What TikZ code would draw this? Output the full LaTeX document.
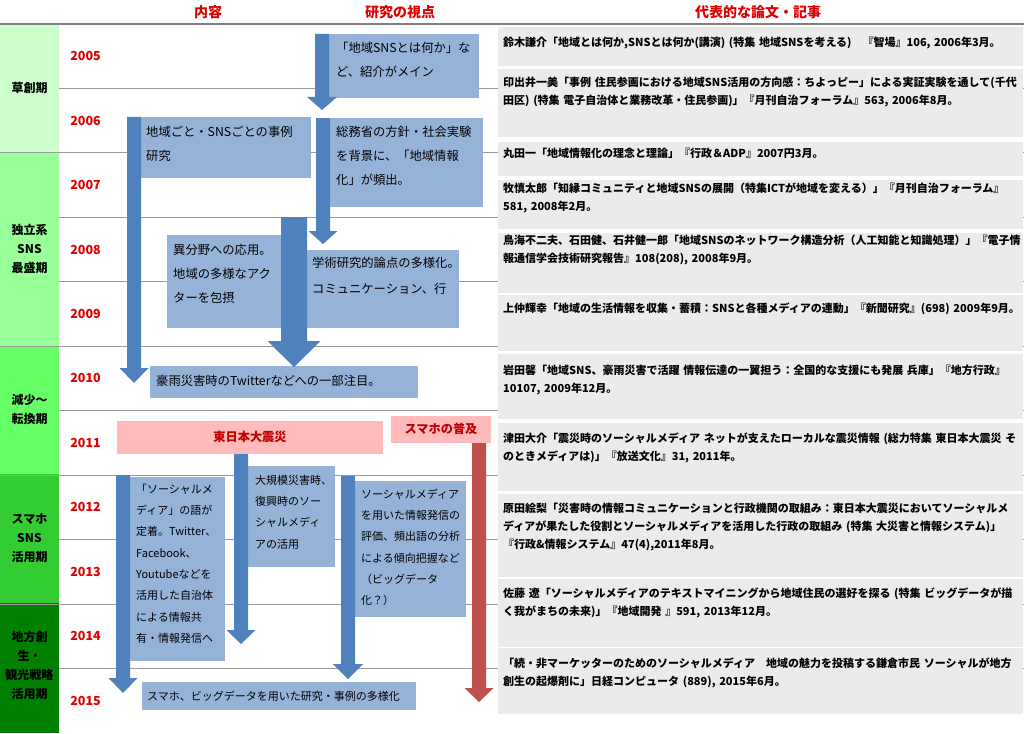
\documentclass[tikz,border=0pt]{standalone}
\usepackage{fontspec}
\setmainfont{Noto Sans CJK JP}
\definecolor{arrowblue}{HTML}{4F81BD}
\definecolor{boxblue}{HTML}{95B3D7}
\definecolor{arrowred}{HTML}{C0504D}
\definecolor{pinkfill}{HTML}{FFBBBB}
\definecolor{pinktext}{HTML}{C00000}
\definecolor{headred}{HTML}{E00000}
\definecolor{yearred}{HTML}{E00000}
\definecolor{refgray}{HTML}{EBEBEB}
\definecolor{linegray}{HTML}{9A9A9A}
\definecolor{topline}{HTML}{808080}
\definecolor{pA}{HTML}{CCFFCC}
\definecolor{pB}{HTML}{99FF99}
\definecolor{pC}{HTML}{66FF66}
\definecolor{pD}{HTML}{33CC33}
\definecolor{pE}{HTML}{008000}
\newcommand{\blockarrow}[7]{%
  \fill[#1] ({#2-#3},#4) -- ({#2+#3},#4) -- ({#2+#3},#5) -- ({#2+#6},#5) -- (#2,#7) -- ({#2-#6},#5) -- ({#2-#3},#5) -- cycle;}
\tikzset{
  bbox/.style={fill=boxblue, draw=none, inner sep=0pt, outer sep=0pt, anchor=north west},
  rbox/.style={fill=refgray, draw=none, inner sep=0pt, outer sep=0pt, anchor=north west},
  pbox/.style={fill=pinkfill, draw=none, inner sep=0pt, outer sep=0pt, anchor=north west},
  uppertxt/.style={anchor=base west, inner sep=0pt, text width=220pt, align=left, font=\fontsize{12.3}{24}\selectfont},
  lowertxt/.style={anchor=base west, inner sep=0pt, text width=220pt, align=left, font=\fontsize{11}{21.3}\selectfont},
  reftxt/.style={anchor=base west, inner sep=0pt, text width=560pt, align=left, font=\bfseries\fontsize{11}{18}\selectfont},
  yeartxt/.style={anchor=base, inner sep=0pt, text=yearred, font=\bfseries\fontsize{12.5}{15}\selectfont},
  periodtxt/.style={anchor=base, inner sep=0pt, text width=59pt, align=center, font=\bfseries\fontsize{12}{19}\selectfont},
  headtxt/.style={anchor=base, inner sep=0pt, text=headred, font=\bfseries\fontsize{14}{16}\selectfont},
  pinktxt/.style={anchor=base, inner sep=0pt, text=pinktext, font=\bfseries\fontsize{12.2}{14}\selectfont},
  rowline/.style={draw=linegray, line width=1pt},
}
\begin{document}
\begin{tikzpicture}[x=1pt,y=-1pt]
\useasboundingbox (0,0) rectangle (1024,733);
\fill[white] (0,0) rectangle (1024,733);
% period column
\fill[pA] (0,24) rectangle (59,153);
\fill[pB] (0,153) rectangle (59,346);
\fill[pC] (0,346) rectangle (59,474);
\fill[pD] (0,474) rectangle (59,603);
\fill[pE] (0,603) rectangle (59,733);
% row lines
\foreach \k in {1,3,4,6,8,10} { \draw[rowline] (59,{24+64.45*\k}) -- (1024,{24+64.45*\k}); }
\foreach \k in {2,5,7,9} { \draw[rowline] (0,{24+64.45*\k}) -- (1024,{24+64.45*\k}); }
\draw[draw=topline, line width=1.3pt] (0,24) -- (1024,24);
% headers
\node[headtxt] (h1) at (208,17.3) {内容};
\node[headtxt] (h2) at (400,17.3) {研究の視点};
\node[headtxt] (h3) at (758,17.3) {代表的な論文・記事};
% period labels
\node[periodtxt] (p1) at (29.5,93) {草創期};
\node[periodtxt] (p2) at (29.5,234.6) {独立系\\SNS\\最盛期};
\node[periodtxt] (p3) at (29.5,404.6) {減少〜\\転換期};
\node[periodtxt] (p4) at (29.5,523.6) {スマホ\\SNS\\活用期};
\node[periodtxt] (p5) at (29.5,641.6) {地方創\\生・\\観光戦略\\活用期};
% years
\foreach \i in {0,...,10} {
  \pgfmathtruncatemacro{\yr}{2005+\i}
  \node[yeartxt] (y\yr) at (85.5,{60.7+64.45*\i}) {\yr};
}
% reference boxes
\node[rbox, minimum width=525pt, minimum height=39pt] (r1) at (498,27) {};
\node[rbox, minimum width=525pt, minimum height=68pt] (r2) at (498,69) {};
\node[rbox, minimum width=525pt, minimum height=34pt] (r3) at (498,142) {};
\node[rbox, minimum width=525pt, minimum height=49pt] (r4) at (498,180) {};
\node[rbox, minimum width=525pt, minimum height=60pt] (r5) at (498,233) {};
\node[rbox, minimum width=525pt, minimum height=56pt] (r6) at (498,295) {};
\node[rbox, minimum width=525pt, minimum height=65pt] (r7) at (498,354) {};
\node[rbox, minimum width=525pt, minimum height=68pt] (r8) at (498,423) {};
\node[rbox, minimum width=525pt, minimum height=83pt] (r9) at (498,494) {};
\node[rbox, minimum width=525pt, minimum height=68pt] (r10) at (498,579) {};
\node[rbox, minimum width=525pt, minimum height=66pt] (r11) at (498,648) {};
\node[reftxt] (r1t) at (503,46.2) {鈴木謙介「地域とは何か,SNSとは何か(講演) (特集 地域SNSを考える)　『智場』106, 2006年3月。};
\node[reftxt] (r2t) at (503,86.2) {印出井一美「事例 住民参画における地域SNS活用の方向感：ちよっピー」による実証実験を通して(千代\\田区) (特集 電子自治体と業務改革・住民参画)」『月刊自治フォーラム』563, 2006年8月。};
\node[reftxt] (r3t) at (503,157.2) {丸田一「地域情報化の理念と理論」『行政＆ADP』2007円3月。};
\node[reftxt] (r4t) at (503,192.2) {牧慎太郎「知縁コミュニティと地域SNSの展開（特集ICTが地域を変える）」『月刊自治フォーラム』\\581, 2008年2月。};
\node[reftxt] (r5t) at (503,244.2) {鳥海不二夫、石田健、石井健一郎「地域SNSのネットワーク構造分析（人工知能と知識処理）」『電子情\\報通信学会技術研究報告』108(208), 2008年9月。};
\node[reftxt] (r6t) at (503,312.2) {上仲輝幸「地域の生活情報を収集・蓄積：SNSと各種メディアの連動」『新聞研究』(698) 2009年9月。};
\node[reftxt] (r7t) at (503,374.2) {岩田馨「地域SNS、豪雨災害で活躍 情報伝達の一翼担う：全国的な支援にも発展 兵庫」『地方行政』\\10107, 2009年12月。};
\node[reftxt] (r8t) at (503,442.2) {津田大介「震災時のソーシャルメディア ネットが支えたローカルな震災情報 (総力特集 東日本大震災 そ\\のときメディアは)」『放送文化』31, 2011年。};
\node[reftxt] (r9t) at (503,512.2) {原田絵梨「災害時の情報コミュニケーションと行政機関の取組み：東日本大震災においてソーシャルメ\\ディアが果たした役割とソーシャルメディアを活用した行政の取組み (特集 大災害と情報システム)」\\『行政\&情報システム』47(4),2011年8月。};
\node[reftxt] (r10t) at (503,597.2) {佐藤 遼「ソーシャルメディアのテキストマイニングから地域住民の選好を探る (特集 ビッグデータが描\\く我がまちの未来)」『地域開発 』591, 2013年12月。};
\node[reftxt] (r11t) at (503,667.2) {「続・非マーケッターのためのソーシャルメディア　地域の魅力を投稿する鎌倉市民 ソーシャルが地方\\創生の起爆剤に」日経コンピュータ (889), 2015年6月。};
% middle boxes
\node[bbox, minimum width=150pt, minimum height=64pt] (b1) at (329,34) {};
\node[bbox, minimum width=170pt, minimum height=61pt] (b2) at (141,117) {};
\node[bbox, minimum width=153pt, minimum height=89pt] (b3) at (330,118) {};
\node[bbox, minimum width=114pt, minimum height=93pt] (b4) at (167,235) {};
\node[bbox, minimum width=153pt, minimum height=78pt] (b5) at (306,250) {};
\node[bbox, minimum width=268pt, minimum height=32pt] (b6) at (150,366) {};
\node[pbox, minimum width=266pt, minimum height=33pt] (pk1) at (117,421) {};
\node[pbox, minimum width=100pt, minimum height=27pt] (pk2) at (391,416) {};
\node[bbox, minimum width=95pt, minimum height=184pt] (b7) at (130,477) {};
\node[bbox, minimum width=87pt, minimum height=101pt] (b8) at (248,466) {};
\node[bbox, minimum width=112pt, minimum height=136pt] (b9) at (354,481) {};
\node[bbox, minimum width=274pt, minimum height=28pt] (b10) at (142,682) {};
% arrows
\blockarrow{arrowblue}{322}{7}{34}{97}{15}{110}
\blockarrow{arrowblue}{134}{7}{117}{368}{14.5}{383}
\blockarrow{arrowblue}{323}{7}{118}{231}{14.5}{244}
\blockarrow{arrowblue}{294}{13}{217}{341}{26.5}{367}
\blockarrow{arrowred}{479}{7}{443}{688}{14.5}{702}
\blockarrow{arrowblue}{123}{7}{475}{678}{14.5}{693}
\blockarrow{arrowblue}{241}{7}{454}{630}{14.5}{644}
\blockarrow{arrowblue}{348}{7}{476}{664}{15}{679}
% middle texts
\node[uppertxt] (b1t) at (336,52.7) {「地域SNSとは何か」な\\ど、紹介がメイン};
\node[uppertxt] (b2t) at (146,136.7) {地域ごと・SNSごとの事例\\研究};
\node[uppertxt] (b3t) at (336,136.7) {総務省の方針・社会実験\\を背景に、「地域情報\\化」が頻出。};
\node[uppertxt] (b4t) at (173,254.7) {異分野への応用。\\地域の多様なアク\\ターを包摂};
\node[uppertxt, font=\fontsize{12.3}{25.5}\selectfont] (b5t) at (312,267.7) {学術研究的論点の多様化。\\コミュニケーション、行};
\node[uppertxt] (b6t) at (156,385.7) {豪雨災害時のTwitterなどへの一部注目。};
\node[pinktxt] (pk1t) at (250,441.6) {東日本大震災};
\node[pinktxt] (pk2t) at (441,433.6) {スマホの普及};
\node[lowertxt] (b7t) at (136,493.2) {「ソーシャルメ\\ディア」の語が\\定着。Twitter、\\Facebook、\\Youtubeなどを\\活用した自治体\\による情報共\\有・情報発信へ};
\node[lowertxt] (b8t) at (255,484.2) {大規模災害時、\\復興時のソー\\シャルメディ\\アの活用};
\node[lowertxt] (b9t) at (361,498.2) {ソーシャルメディア\\を用いた情報発信の\\評価、頻出語の分析\\による傾向把握など\\（ビッグデータ\\化？）};
\node[lowertxt] (b10t) at (147,700.2) {スマホ、ビッグデータを用いた研究・事例の多様化};
\end{tikzpicture}
\end{document}
